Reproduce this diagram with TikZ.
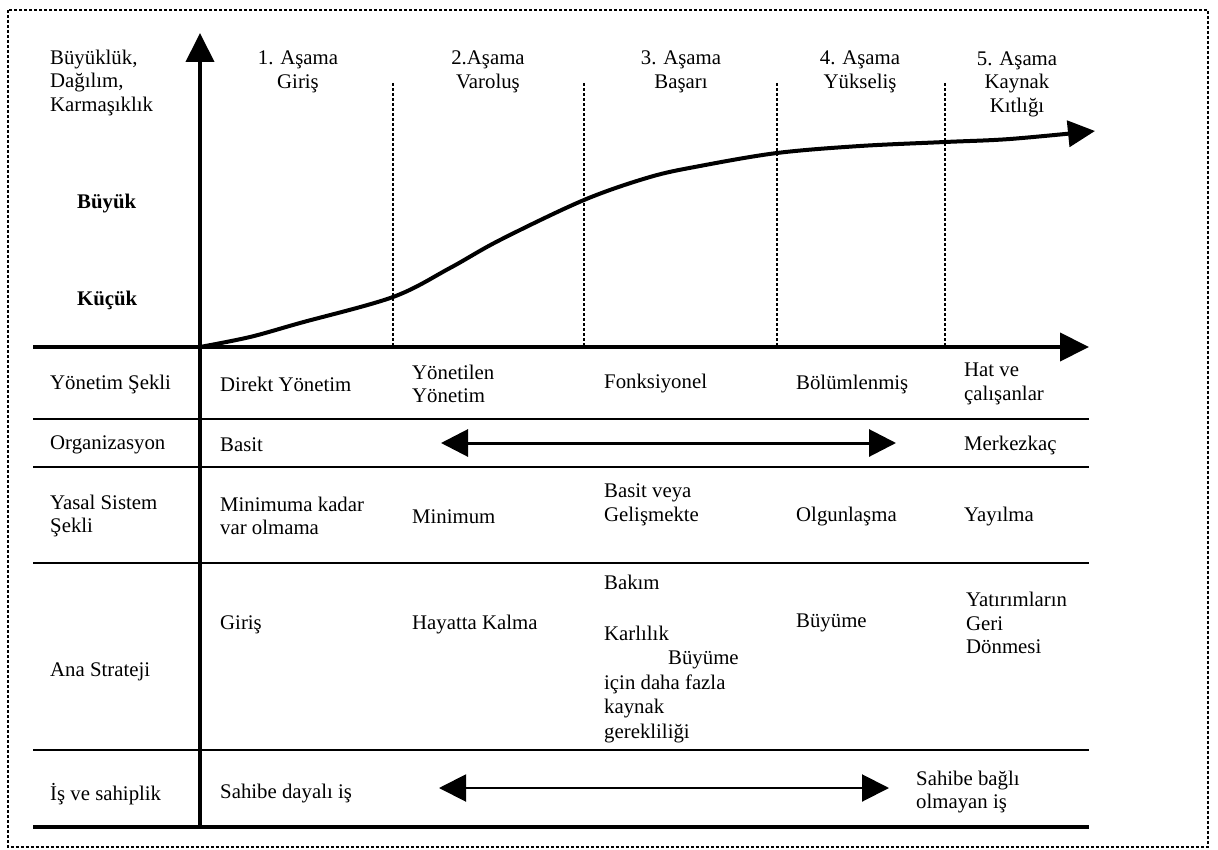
\documentclass[tikz,border=0pt]{standalone}
\usepackage{fontspec}
\setmainfont{Liberation Serif}
\usetikzlibrary{arrows.meta}

\begin{document}
\begin{tikzpicture}[x=1pt,y=-1pt,
  txt/.style={font=\fontsize{20.8}{23.5}\selectfont, inner sep=0pt, align=left, anchor=west},
  hdr/.style={font=\fontsize{20.8}{23.5}\selectfont, inner sep=0pt, align=center},
  bigaxis/.style={line width=4pt, -{Triangle[length=29pt,width=28pt]}},
  growth/.style={line width=4pt, line join=round, -{Triangle[length=27pt,width=26pt]}},
  stagesep/.style={line width=1.4pt, dash pattern=on 3pt off 2pt},
  rowline/.style={line width=2pt},
  frame/.style={line width=1.8pt, dash pattern=on 3pt off 2pt},
  spanarrow/.style={<->, >={Triangle[length=27pt,width=27pt]}},
]
\useasboundingbox (0,0) rectangle (1218,850);

% outer dotted frame
\draw[frame] (8,10) rectangle (1208,847);

% axes
\coordinate (yB) at (200,827);
\coordinate (yT) at (200,33);
\coordinate (xL) at (33,347);
\coordinate (xR) at (1089,347);
\draw[bigaxis] (yB) -- (yT);
\draw[bigaxis] (xL) -- (xR);

% stage separators
\foreach \x/\n in {393/a,584/b,777/c,945/d}{
  \coordinate (s\n T) at (\x,83);
  \coordinate (s\n B) at (\x,347);
  \draw[stagesep] (s\n T) -- (s\n B);
}

% growth curve
\draw[growth] plot[smooth, tension=0.55] coordinates
  {(200,347) (250,337) (300,323) (393,297) (450,268) (500,240) (584,200)
   (650,177) (700,166) (777,153) (860,146) (945,142) (1010,139) (1095,131)};

% table rules
\foreach \y/\n in {419/a,467/b,563/c,750/d}{
  \coordinate (r\n L) at (33,\y);
  \coordinate (r\n R) at (1089,\y);
  \draw[rowline] (r\n L) -- (r\n R);
}
\coordinate (rbL) at (33,827);
\coordinate (rbR) at (1089,827);
\draw[line width=4pt] (rbL) -- (rbR);

% axis labels
\node[txt] (ylab) at (50,83) {Büyüklük,\\Dağılım,\\Karmaşıklık};
\node[txt, font=\fontsize{20.8}{23.5}\selectfont\bfseries] (big) at (77,204) {Büyük};
\node[txt, font=\fontsize{20.8}{23.5}\selectfont\bfseries] (small) at (77,300) {Küçük};

% stage headers
\node[hdr] (h1) at (298,72) {1. Aşama\\Giriş};
\node[hdr] (h2) at (488,72) {2.Aşama\\Varoluş};
\node[hdr] (h3) at (681,72) {3. Aşama\\Başarı};
\node[hdr] (h4) at (860,72) {4. Aşama\\Yükseliş};
\node[hdr] (h5) at (1017,84) {5. Aşama\\Kaynak\\Kıtlığı};

% row: Yönetim Şekli
\node[txt] (l1) at (50,384) {Yönetim Şekli};
\node[txt] (c11) at (220,384) {Direkt Yönetim};
\node[txt] (c12) at (412,384) {Yönetilen\\Yönetim};
\node[txt] (c13) at (604,384) {Fonksiyonel};
\node[txt] (c14) at (796,384) {Bölümlenmiş};
\node[txt] (c15) at (964,384) {Hat ve\\çalışanlar};

% row: Organizasyon
\node[txt] (l2) at (50,445) {Organizasyon};
\node[txt] (c21) at (220,445) {Basit};
\node[txt] (c25) at (964,445) {Merkezkaç};
\coordinate (o1) at (441,443);
\coordinate (o2) at (896,443);
\draw[spanarrow, line width=3pt] (o1) -- (o2);

% row: Yasal Sistem Şekli
\node[txt] (l3) at (50,516) {Yasal Sistem\\Şekli};
\node[txt] (c31) at (220,516) {Minimuma kadar\\var olmama};
\node[txt] (c32) at (412,517) {Minimum};
\node[txt] (c33) at (604,505) {Basit veya\\Gelişmekte};
\node[txt] (c34) at (796,517) {Olgunlaşma};
\node[txt] (c35) at (964,517) {Yayılma};

% row: Ana Strateji
\node[txt] (l4) at (50,672) {Ana Strateji};
\node[txt] (c41) at (220,625) {Giriş};
\node[txt] (c42) at (412,625) {Hayatta Kalma};
\node[txt, font=\fontsize{20.8}{24.5}\selectfont] (c43) at (604,659)
  {Bakım\\[26pt]Karlılık\\\hspace*{64pt}Büyüme\\için daha fazla\\kaynak\\gerekliliği};
\node[txt] (c44) at (796,623) {Büyüme};
\node[txt] (c45) at (966,623) {Yatırımların\\Geri\\Dönmesi};

% row: İş ve sahiplik
\node[txt] (l5) at (50,794) {İş ve sahiplik};
\node[txt] (c51) at (220,794) {Sahibe dayalı iş};
\node[txt] (c55) at (916,792) {Sahibe bağlı\\olmayan iş};
\coordinate (p1) at (439,788);
\coordinate (p2) at (889,788);
\draw[spanarrow, line width=2pt] (p1) -- (p2);

\end{tikzpicture}
\end{document}
